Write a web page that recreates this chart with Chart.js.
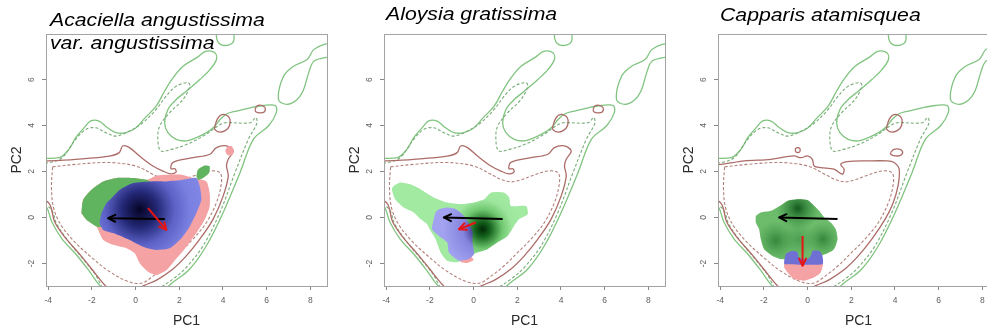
<!DOCTYPE html>
<html>
<head>
<meta charset="utf-8">
<title>Niche overlap in PCA space</title>
<script src="https://cdn.jsdelivr.net/npm/chart.js@4.4.1/dist/chart.umd.min.js"></script>
<style>
  html, body { margin: 0; padding: 0; background: #fff; }
  body { position: relative; width: 987px; height: 332px; overflow: hidden; font-family: "Liberation Sans", Arial, sans-serif; }
  .panel { position: absolute; top: 0; width: 336px; height: 332px; }
  .species { position: absolute; font-style: italic; font-size: 18px; line-height: 23px; color: #000; white-space: nowrap; transform: scaleX(1.18); transform-origin: 0 0; }
</style>
</head>
<body>
<div class="panel" style="left:0px"><canvas id="acaciella" width="336" height="332"></canvas></div>
<div class="panel" style="left:338px"><canvas id="aloysia" width="336" height="332"></canvas></div>
<div class="panel" style="left:672px"><canvas id="capparis" width="336" height="332"></canvas></div>
<div class="species" style="left:50px;top:9px">Acaciella angustissima<br>var. angustissima</div>
<div class="species" style="left:386px;top:3px">Aloysia gratissima</div>
<div class="species" style="left:720px;top:4px">Capparis atamisquea</div>
<script>
// axes
const xTicks = [-4, -2, 0, 2, 4, 6, 8];
const yTicks = [-2, 0, 2, 4, 6];

// background environment contours (PC1, PC2)
const greenSolidMain = [[-4.6,2.6],[-3.5,2.6],[-3.05,2.96],[-2.74,3.47],[-2.36,3.9],[-2.05,4.2],[-1.67,4.19],[-1.28,3.9],[-0.9,3.69],[-0.44,3.69],[0.02,3.9],[0.4,4.3],[0.94,4.84],[1.33,5.5],[1.71,6.07],[2.17,6.58],[2.78,6.94],[3.24,7.23],[3.63,7.16],[3.7,6.87],[3.4,6.43],[2.94,6.0],[2.32,5.49],[1.86,5.13],[1.48,4.7],[1.33,4.12],[1.48,3.69],[1.86,3.4],[2.32,3.33],[2.78,3.47],[3.24,3.69],[3.55,3.9],[3.86,4.25],[4.16,4.5],[4.62,4.63],[5.24,4.77],[5.85,4.87],[6.39,4.87],[6.44,4.56],[6.1,4.0],[5.39,3.4],[4.78,1.95],[4.01,0.22],[3.24,-1.23],[2.48,-2.24],[1.71,-2.82],[1.2,-3.2],[0.5,-3.4],[-1.0,-3.4],[-1.6,-3.0],[-2.13,-2.32],[-2.74,-1.59],[-3.36,-0.94],[-3.82,-0.22],[-4.1,0.5],[-4.6,0.9],[-4.6,2.6]];
const greenSolidTop = [[3.7,8.3],[3.72,7.75],[3.9,7.52],[4.25,7.5],[4.48,7.65],[4.5,7.95],[4.45,8.3]];
const greenSolidIsland = [[9.2,7.6],[8.6,7.52],[8.15,7.3],[7.85,6.87],[7.23,6.58],[6.77,6.14],[6.54,5.13],[6.93,4.92],[7.39,5.13],[7.69,5.57],[7.92,6.29],[8.15,6.79],[8.6,6.94],[9.2,7.0]];
const greenDashMain = [[-4.6,2.35],[-3.9,2.4],[-3.36,2.6],[-2.74,3.4],[-2.28,3.83],[-1.82,3.9],[-1.36,3.69],[-0.9,3.54],[-0.28,3.76],[0.33,4.12],[0.94,4.7],[1.4,5.28],[1.86,5.71],[2.4,5.86],[2.48,5.71],[2.17,5.13],[1.56,4.56],[1.1,3.97],[1.02,3.4],[1.15,2.9],[1.6,2.95],[2.4,3.2],[3.2,3.6],[3.8,4.0],[4.1,4.12],[5.24,4.12],[5.5,4.35],[5.55,4.1],[5.16,3.4],[4.55,1.95],[3.86,0.22],[3.09,-1.23],[2.32,-2.17],[1.71,-2.68],[1.0,-3.1],[0.3,-3.3],[-1.3,-3.2],[-1.9,-2.4],[-2.5,-1.7],[-3.1,-1.0],[-3.6,-0.3],[-3.9,0.4],[-4.6,0.7]];
const brownSolidMain = [[-4.6,2.45],[-4.05,2.46],[-2.74,2.53],[-1.21,2.67],[-0.75,2.82],[-0.59,3.11],[-0.28,3.04],[0.18,2.67],[0.79,2.24],[1.25,2.02],[1.6,1.9],[1.85,1.97],[1.8,2.12],[1.62,2.12],[1.71,2.4],[2.63,2.6],[3.4,2.75],[3.7,3.04],[4.16,3.11],[4.47,2.89],[4.24,2.53],[4.16,2.24],[4.24,1.8],[4.01,0.94],[3.55,-0.07],[2.94,-0.94],[2.32,-1.67],[1.71,-2.24],[1.0,-2.7],[0.4,-2.95],[0.0,-3.1],[-1.0,-3.3],[-1.4,-2.95],[-2.0,-2.25],[-2.6,-1.55],[-3.2,-0.9],[-3.7,-0.2],[-3.95,0.6],[-4.6,1.0]];
const brownSolidCap = [[-4.6,2.3],[-3.97,2.31],[-2.9,2.46],[-1.68,2.53],[-0.62,2.68],[-0.31,2.6],[0.0,2.68],[0.22,2.53],[0.3,2.24],[0.6,2.17],[1.21,2.1],[1.59,1.88],[1.67,2.1],[1.52,2.31],[1.82,2.43],[2.74,2.46],[3.65,2.46],[3.96,2.39],[4.19,2.1],[4.14,1.37],[3.9,0.6],[3.55,-0.07],[2.94,-0.94],[2.32,-1.67],[1.71,-2.24],[1.0,-2.7],[0.4,-2.95],[0.0,-3.1],[-1.0,-3.3],[-1.4,-2.95],[-2.0,-2.25],[-2.6,-1.55],[-3.2,-0.9],[-3.7,-0.2],[-3.95,0.6],[-4.6,1.0]];
const brownLoopA = [[3.6,3.85],[3.75,4.3],[4.0,4.48],[4.28,4.35],[4.3,4.0],[4.1,3.78],[3.8,3.72],[3.6,3.85]];
const brownLoopB = [[5.47,4.7],[5.55,4.85],[5.75,4.88],[5.92,4.78],[5.9,4.6],[5.7,4.55],[5.5,4.6],[5.47,4.7]];
const brownLoopCap = [[3.8,2.82],[3.95,2.96],[4.2,2.97],[4.35,2.85],[4.25,2.7],[4.0,2.68],[3.8,2.75],[3.8,2.82]];
const brownDotCap = [[-0.45,2.93]];
const brownDashMain = [[-3.8,2.2],[-2.74,2.31],[-1.21,2.39],[0.0,2.24],[0.79,1.88],[1.25,1.66],[1.71,1.55],[2.2,1.65],[2.63,1.8],[3.4,2.02],[3.86,1.95],[3.93,1.52],[3.7,0.65],[3.24,-0.22],[2.63,-0.94],[2.02,-1.52],[1.4,-2.1],[0.8,-2.55],[0.3,-2.85],[-0.3,-2.8],[-1.2,-2.35],[-2.0,-1.75],[-2.8,-1.05],[-3.4,-0.35],[-3.75,0.4],[-3.85,1.3],[-3.8,2.2]];

// Acaciella angustissima var. angustissima
const acaPink = [[-2.48,0.19],[-2.4,0.77],[-2.02,1.21],[-1.48,1.57],[-0.87,1.72],[-0.11,1.72],[0.5,1.64],[0.95,1.82],[1.41,1.86],[2.1,1.86],[2.63,1.72],[3.24,1.57],[3.39,1.06],[3.39,0.48],[3.16,-0.1],[2.78,-0.68],[2.33,-1.27],[1.87,-1.78],[1.41,-2.29],[0.95,-2.5],[0.57,-2.36],[0.19,-1.99],[-0.04,-1.56],[-0.42,-1.34],[-1.03,-1.19],[-1.48,-0.98],[-1.71,-0.54],[-1.79,-0.39],[-2.25,-0.1]];
const acaPinkSpot = [[4.1,2.9],[4.2,3.08],[4.4,3.1],[4.5,2.92],[4.42,2.72],[4.2,2.72]];
const acaGreen = [[-2.48,0.19],[-2.4,0.77],[-2.02,1.21],[-1.48,1.57],[-0.87,1.72],[-0.11,1.72],[0.5,1.64],[0.75,1.5],[0.2,1.0],[-0.8,0.3],[-1.5,-0.4],[-1.79,-0.39],[-2.25,-0.1]];
const acaGreenSpot = [[2.78,1.79],[2.85,2.08],[3.16,2.26],[3.39,2.23],[3.36,1.94],[3.09,1.72],[2.86,1.64]];
const acaBlue = [[-1.18,0.77],[-0.72,1.21],[-0.11,1.5],[0.73,1.57],[1.41,1.57],[2.17,1.64],[2.78,1.72],[2.94,1.35],[3.01,0.77],[2.78,0.19],[2.48,-0.39],[2.1,-0.9],[1.56,-1.34],[0.95,-1.41],[0.34,-1.27],[-0.27,-0.98],[-1.03,-0.68],[-1.48,-0.54],[-1.64,-0.25],[-1.56,0.19],[-1.33,0.63]];
const acaPeak = [0.19, 0.33];
const acaShift = [[1.34,-0.07],[-1.26,-0.03]];
const acaCentroid = [[0.57,0.41],[1.41,-0.54]];

// Aloysia gratissima
const aloGreen = [[-3.66,1.37],[-3.36,1.52],[-2.9,1.44],[-2.43,1.23],[-1.82,0.87],[-1.21,0.65],[-0.59,0.58],[0.02,0.65],[0.48,0.79],[0.79,1.08],[1.4,1.08],[1.63,0.87],[1.71,0.5],[2.4,0.5],[2.48,0.14],[2.09,-0.07],[1.86,-0.36],[1.56,-0.8],[1.1,-1.08],[0.64,-1.38],[0.18,-1.52],[0.02,-1.59],[-0.44,-1.81],[-0.75,-1.95],[-1.21,-1.88],[-1.51,-1.52],[-1.74,-0.94],[-1.97,-0.58],[-2.13,-0.29],[-2.43,-0.07],[-2.74,0.22],[-3.2,0.43],[-3.59,0.79],[-3.74,1.23]];
const aloPink = [[-0.6,-1.75],[-0.1,-1.72],[0.0,-1.85],[-0.3,-1.98],[-0.6,-1.92]];
const aloBlue = [[-1.59,0.36],[-1.21,0.43],[-0.82,0.36],[-0.52,0.14],[-0.28,-0.15],[-0.05,-0.58],[-0.05,-1.08],[0.02,-1.59],[-0.21,-1.81],[-0.67,-1.88],[-1.13,-1.52],[-1.21,-1.08],[-1.59,-0.8],[-1.9,-0.51],[-1.82,-0.07],[-1.74,0.22]];
const aloPeak = [0.41, -0.51];
const aloShift = [[1.33,-0.07],[-1.36,0.0]];
const aloCentroid = [[0.1,-0.22],[-0.67,-0.51]];

// Capparis atamisquea
const capGreen = [[-2.37,0.07],[-2.14,0.22],[-1.68,0.29],[-1.15,0.58],[-0.92,0.72],[-0.46,0.79],[0.0,0.76],[0.23,0.58],[0.53,0.29],[0.76,0.0],[1.06,-0.22],[1.29,-0.51],[1.37,-0.94],[1.21,-1.38],[0.83,-1.59],[0.5,-1.7],[0.0,-1.85],[-0.5,-1.8],[-1.22,-1.81],[-1.6,-1.67],[-1.99,-1.38],[-2.14,-0.94],[-2.22,-0.51],[-2.37,-0.22]];
const capBlue = [[-1.07,-2.03],[-1.07,-1.88],[-0.99,-1.59],[-0.69,-1.45],[-0.46,-1.52],[-0.39,-1.74],[0.0,-1.82],[0.15,-1.65],[0.23,-1.45],[0.53,-1.45],[0.68,-1.67],[0.68,-2.03]];
const capPink = [[-1.07,-2.0],[0.68,-2.0],[0.6,-2.39],[0.3,-2.6],[-0.16,-2.75],[-0.62,-2.68],[-0.85,-2.46],[-1.07,-2.17]];
const capPeaks = [[-0.45,0.4],[-1.45,-1.0],[0.7,-0.95],[-0.4,-0.95]];
const capShift = [[1.37,-0.07],[-1.3,0.0]];
const capCentroid = [[-0.23,-0.8],[-0.23,-2.1]];

const greenLine = 'rgb(128,196,128)';
const greenDash = 'rgb(120,172,120)';
const brownLine = 'rgb(172,108,104)';
const brownDash = 'rgb(178,128,122)';
const pink = 'rgb(245,162,165)';

Chart.defaults.font.family = '"Liberation Sans", Arial, sans-serif';

const pts = a => a.map(([x, y]) => ({x, y}));

function contour(arr, color, dashed) {
  return {data: pts(arr), borderColor: color, borderWidth: dashed ? 1.1 : 1.3,
    borderDash: dashed ? [3, 2] : [], pointRadius: 0, fill: false, tension: 0.35};
}
function area(arr, color) {
  return {data: pts(arr.concat([arr[0]])), backgroundColor: color, borderColor: 'rgba(0,0,0,0)',
    borderWidth: 1, pointRadius: 0, fill: 'shape', tension: 0.2};
}
function arrow(arr, color) {
  return {data: pts(arr), borderColor: color, borderWidth: 2, pointRadius: 0, fill: false, tension: 0, arrow: true};
}
// radial shading around a density peak, radius in PC1 units
function glow(center, radius, stops) {
  return c => {
    const chart = c.chart;
    if (!chart.chartArea) return stops[stops.length - 1][1];
    const sx = chart.scales.x, sy = chart.scales.y;
    const px = sx.getPixelForValue(center[0]), py = sy.getPixelForValue(center[1]);
    const pr = Math.abs(sx.getPixelForValue(center[0] + radius) - px);
    const g = chart.ctx.createRadialGradient(px, py, 0, px, py, pr);
    stops.forEach(([o, col]) => g.addColorStop(o, col));
    return g;
  };
}

function backdrop(cap) {
  const layers = [
    contour(greenSolidMain, greenLine), contour(greenSolidTop, greenLine), contour(greenSolidIsland, greenLine),
    contour(greenDashMain, greenDash, true),
    contour(cap ? brownSolidCap : brownSolidMain, brownLine),
    contour(brownLoopA, brownLine),
    contour(brownDashMain, brownDash, true)
  ];
  if (cap) {
    layers.push(contour(brownLoopCap, brownLine));
    layers.push({data: pts(brownDotCap), showLine: false, pointRadius: 2.5, borderWidth: 1.2,
      pointBorderColor: brownLine, pointBackgroundColor: 'rgba(0,0,0,0)'});
  } else {
    layers.push(contour(brownLoopB, brownLine));
  }
  return layers;
}

const frame = {
  id: 'frame',
  afterDraw(chart) {
    const {ctx, chartArea: a} = chart;
    ctx.save();
    ctx.strokeStyle = '#a3a3a3';
    ctx.lineWidth = 1;
    ctx.strokeRect(Math.round(a.left) + 0.5, Math.round(a.top) + 0.5, Math.round(a.right - a.left), Math.round(a.bottom - a.top));
    ctx.restore();
  }
};

const arrowHeads = {
  id: 'arrowHeads',
  afterDatasetsDraw(chart) {
    const ctx = chart.ctx;
    chart.data.datasets.forEach((ds, i) => {
      if (!ds.arrow) return;
      const p = chart.getDatasetMeta(i).data;
      const a = p[p.length - 2], b = p[p.length - 1];
      const ang = Math.atan2(b.y - a.y, b.x - a.x);
      ctx.save();
      ctx.strokeStyle = ds.borderColor;
      ctx.lineWidth = ds.borderWidth;
      ctx.lineCap = 'round';
      ctx.beginPath();
      for (const s of [-1, 1]) {
        ctx.moveTo(b.x, b.y);
        ctx.lineTo(b.x - 8 * Math.cos(ang + s * 0.45), b.y - 8 * Math.sin(ang + s * 0.45));
      }
      ctx.stroke();
      ctx.restore();
    });
  }
};

function panel(id, layers) {
  const datasets = layers.map((d, i) => Object.assign({order: layers.length - i, clip: 0}, d));
  return new Chart(document.getElementById(id), {
    type: 'line',
    data: {datasets},
    options: {
      responsive: false,
      animation: false,
      events: [],
      layout: {autoPadding: false, padding: {top: 34, right: 9, left: 0, bottom: 0}},
      plugins: {legend: {display: false}, tooltip: {enabled: false}},
      scales: {
        x: {
          type: 'linear', min: -4.1, max: 8.76,
          afterBuildTicks: s => { s.ticks = xTicks.map(v => ({value: v})); },
          afterFit: s => { s.height = 46; },
          border: {display: false},
          grid: {drawOnChartArea: false, tickLength: 4, color: '#888'},
          ticks: {color: '#606060', font: {size: 8.5}, padding: 6, maxRotation: 0, autoSkip: false},
          title: {display: true, text: 'PC1', color: '#2a2a2a', font: {size: 14}, padding: {top: 0, bottom: 2}}
        },
        y: {
          type: 'linear', min: -2.98, max: 7.98,
          afterBuildTicks: s => { s.ticks = yTicks.map(v => ({value: v})); },
          afterFit: s => { s.width = 46; },
          border: {display: false},
          grid: {drawOnChartArea: false, tickLength: 4, color: '#888'},
          ticks: {color: '#606060', font: {size: 8.5}, padding: 7, minRotation: 90, maxRotation: 90, crossAlign: 'center', autoSkip: false},
          title: {display: true, text: 'PC2', color: '#2a2a2a', font: {size: 14}, padding: {top: 9, bottom: 0}}
        }
      }
    },
    plugins: [frame, arrowHeads]
  });
}

panel('acaciella', backdrop(false).concat([
  area(acaPink, pink),
  area(acaPinkSpot, pink),
  area(acaGreen, 'rgb(96,180,96)'),
  area(acaGreenSpot, 'rgb(96,180,96)'),
  area(acaBlue, glow(acaPeak, 2.9, [[0, 'rgb(4,4,36)'], [0.28, 'rgb(36,40,118)'], [0.55, 'rgb(92,98,198)'], [0.8, 'rgb(122,128,224)'], [1, 'rgb(128,134,228)']])),
  arrow(acaShift, '#000'),
  arrow(acaCentroid, 'rgb(232,20,20)')
]));

panel('aloysia', backdrop(false).concat([
  area(aloGreen, glow(aloPeak, 1.8, [[0, 'rgb(0,42,6)'], [0.2, 'rgb(22,100,30)'], [0.5, 'rgb(112,200,112)'], [0.75, 'rgb(158,230,158)'], [1, 'rgb(162,233,162)']])),
  area(aloPink, pink),
  area(aloBlue, glow(aloPeak, 1.8, [[0, 'rgb(20,15,60)'], [0.25, 'rgb(72,66,152)'], [0.5, 'rgb(132,132,222)'], [1, 'rgb(162,162,240)']])),
  arrow(aloShift, '#000'),
  arrow(aloCentroid, 'rgb(232,20,20)')
]));

panel('capparis', backdrop(true).concat([
  area(capGreen, 'rgb(108,188,108)'),
  area(capGreen, glow(capPeaks[0], 1.0, [[0, 'rgba(18,88,28,1)'], [0.5, 'rgba(40,120,50,0.55)'], [1, 'rgba(60,140,60,0)']])),
  area(capGreen, glow(capPeaks[1], 0.9, [[0, 'rgba(30,110,40,0.7)'], [1, 'rgba(60,140,60,0)']])),
  area(capGreen, glow(capPeaks[2], 0.8, [[0, 'rgba(30,110,40,0.7)'], [1, 'rgba(60,140,60,0)']])),
  area(capGreen, glow(capPeaks[3], 0.8, [[0, 'rgba(40,120,50,0.45)'], [1, 'rgba(60,140,60,0)']])),
  area(capPink, pink),
  area(capBlue, 'rgb(112,112,212)'),
  arrow(capShift, '#000'),
  arrow(capCentroid, 'rgb(232,20,20)')
]));
</script>
</body>
</html>
